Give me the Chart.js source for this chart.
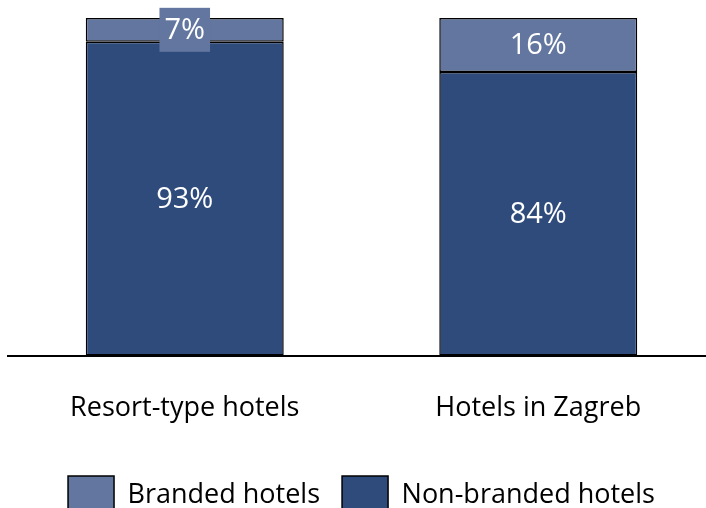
<!DOCTYPE html>
<html>
<head>
<meta charset="utf-8">
<script src="https://cdn.jsdelivr.net/npm/chart.js@4"></script>
<style>
  html, body { margin: 0; padding: 0; background: #fff; overflow: hidden; }
  #wrap { width: 715px; height: 524px; }
</style>
</head>
<body>
<div id="wrap"><canvas id="c"></canvas></div>
<script>
const categories = ['Resort-type hotels', 'Hotels in Zagreb'];
const nonBranded = [93, 84];
const branded = [7, 16];

const DARK = '#2F4B7C';
const LIGHT = '#62769F';

// white % labels inside the bar segments, small ones get a backing box
const barLabels = {
  id: 'barLabels',
  afterDatasetsDraw(chart) {
    const ctx = chart.ctx;
    ctx.save();
    ctx.font = '29px "Open Sans"';
    ctx.textAlign = 'center';
    ctx.textBaseline = 'middle';
    chart.data.datasets.forEach((ds, i) => {
      chart.getDatasetMeta(i).data.forEach((bar, j) => {
        const txt = ds.data[j] + '%';
        const y = (bar.y + bar.base) / 2;
        const h = Math.abs(bar.base - bar.y);
        if (h < 40) {
          const w = ctx.measureText(txt).width + 10;
          ctx.fillStyle = ds.backgroundColor;
          ctx.fillRect(bar.x - w / 2, y - 22, w, 44);
        }
        ctx.fillStyle = '#fff';
        ctx.fillText(txt, bar.x, y + 1);
      });
    });
    ctx.restore();
  }
};

new Chart(document.getElementById('c'), {
  type: 'bar',
  data: {
    labels: categories,
    datasets: [
      { label: 'Non-branded hotels', data: nonBranded, backgroundColor: DARK, borderColor: '#000', borderWidth: 1.5, borderSkipped: false, categoryPercentage: 1, barPercentage: 0.56 },
      { label: 'Branded hotels', data: branded, backgroundColor: LIGHT, borderColor: '#000', borderWidth: 1.5, borderSkipped: false, categoryPercentage: 1, barPercentage: 0.56 }
    ]
  },
  options: {
    responsive: true,
    maintainAspectRatio: false,
    animation: false,
    layout: { padding: { left: 8, right: 0, top: 18, bottom: 0 } },
    scales: {
      x: {
        stacked: true,
        grid: { display: false },
        border: { color: '#000', width: 2 },
        ticks: { color: '#000', font: { family: 'Open Sans', size: 27 }, padding: 29 }
      },
      y: {
        stacked: true,
        display: false,
        min: 0,
        max: 100
      }
    },
    plugins: {
      legend: {
        position: 'bottom',
        labels: {
          color: '#000',
          font: { family: 'Open Sans', size: 27 },
          boxWidth: 46,
          boxHeight: 38,
          padding: 22,
          generateLabels(chart) {
            return chart.data.datasets.map((ds, i) => ({
              text: ds.label,
              fillStyle: ds.backgroundColor,
              strokeStyle: '#000',
              lineWidth: 1.5,
              datasetIndex: i
            })).reverse();
          }
        }
      },
      tooltip: { enabled: false }
    }
  },
  plugins: [barLabels]
});
</script>
</body>
</html>
